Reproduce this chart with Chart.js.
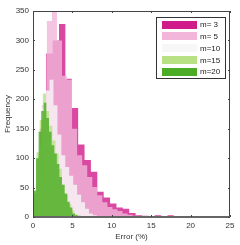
<!DOCTYPE html>
<html><head><meta charset="utf-8">
<script src="https://cdn.jsdelivr.net/npm/chart.js@4/dist/chart.umd.min.js"></script>
<style>html,body{margin:0;padding:0;background:#fff}#c{display:block}</style>
</head><body>
<canvas id="c" width="240" height="245"></canvas>
<script>
// Series labels and colours (PiYG)
const seriesLabels = ['m= 3', 'm= 5', 'm=10', 'm=15', 'm=20'];
const seriesColors = ['#d01c8b', '#f1b6da', '#f7f7f7', '#b8e186', '#4dac26'];
// Histogram bins: first left edge and bin width for each series
const binStart = [0.06, 0.48, 0.10, 0.05, 0.05];
const binWidth = [0.81, 0.64, 0.50, 0.40, 0.33];
// Counts per bin
const countsM3  = [20, 150, 278, 300, 328, 235, 185, 123, 97, 77, 43, 33, 23, 16, 14, 7, 3, 2, 1, 3, 0, 3];
const countsM5  = [60, 190, 333, 380, 300, 240, 233, 150, 105, 88, 68, 51, 37, 25, 17, 13, 10, 6, 4, 2, 1];
const countsM10 = [40, 120, 185, 215, 233, 190, 140, 105, 85, 70, 55, 38, 25, 14, 6, 3, 1];
const countsM15 = [40, 110, 165, 210, 180, 155, 130, 108, 82, 55, 38, 22, 11, 5, 2, 1];
const countsM20 = [45, 100, 145, 180, 194, 168, 145, 122, 108, 90, 68, 55, 40, 26, 16, 6, 3, 2, 1];
const allCounts = [countsM3, countsM5, countsM10, countsM15, countsM20];
// Axis ticks
const xTicks = [0, 5, 10, 15, 20, 25];
const yTicks = [0, 50, 100, 150, 200, 250, 300, 350];
const xTitle = 'Error (%)';
const yTitle = 'Frequency';

function hexA(hex, a) {
  const n = parseInt(hex.slice(1), 16);
  return `rgba(${(n >> 16) & 255},${(n >> 8) & 255},${n & 255},${a})`;
}
function histPoints(start, w, counts) {
  const pts = counts.map((c, i) => ({ x: start + i * w, y: c }));
  pts.push({ x: start + counts.length * w, y: 0 });
  return pts;
}

const datasets = allCounts.map((cnt, i) => ({
  label: seriesLabels[i],
  data: histPoints(binStart[i], binWidth[i], cnt),
  stepped: 'before',
  fill: 'origin',
  backgroundColor: hexA(seriesColors[i], 0.8),
  borderWidth: 0,
  borderColor: 'rgba(0,0,0,0)',
  pointRadius: 0,
  order: 5 - i
}));

const frameAndLegend = {
  id: 'frameAndLegend',
  afterDraw(chart) {
    const ctx = chart.ctx, a = chart.chartArea;
    const xs = chart.scales.x, ys = chart.scales.y;
    ctx.save();
    // frame
    ctx.strokeStyle = '#444';
    ctx.lineWidth = 1;
    ctx.strokeRect(Math.round(a.left) + 0.5, Math.round(a.top) + 0.5, Math.round(a.right - a.left) - 1, Math.round(a.bottom - a.top) - 1);
    ctx.strokeStyle = '#666';
    ctx.lineWidth = 2;
    ctx.beginPath(); ctx.moveTo(a.left, a.bottom); ctx.lineTo(a.right, a.bottom); ctx.stroke();
    // inward ticks
    ctx.strokeStyle = '#444'; ctx.lineWidth = 1;
    ctx.beginPath();
    xTicks.forEach(v => {
      const px = Math.round(xs.getPixelForValue(v)) + 0.5;
      ctx.moveTo(px, a.bottom); ctx.lineTo(px, a.bottom - 2);
      ctx.moveTo(px, a.top); ctx.lineTo(px, a.top + 2);
    });
    yTicks.forEach(v => {
      const py = Math.round(ys.getPixelForValue(v)) + 0.5;
      ctx.moveTo(a.left, py); ctx.lineTo(a.left + 2, py);
      ctx.moveTo(a.right, py); ctx.lineTo(a.right - 2, py);
    });
    ctx.stroke();
    // legend
    const lx = 156, ly = 17, lw = 69, lh = 61;
    ctx.fillStyle = '#fff';
    ctx.fillRect(lx, ly, lw, lh);
    ctx.strokeStyle = '#333';
    ctx.strokeRect(lx + 0.5, ly + 0.5, lw, lh);
    ctx.font = '8px "Liberation Sans", Arial, sans-serif';
    ctx.textBaseline = 'middle';
    ctx.textAlign = 'left';
    seriesLabels.forEach((lab, i) => {
      const cy = ly + 7.5 + i * 11.8;
      ctx.fillStyle = seriesColors[i];
      ctx.fillRect(lx + 6, Math.round(cy - 4), 35, 8);
      ctx.fillStyle = '#222';
      ctx.fillText(lab, lx + 44, cy + 0.5);
    });
    ctx.restore();
  }
};

new Chart(document.getElementById('c'), {
  type: 'line',
  data: { datasets },
  options: {
    responsive: false,
    animation: false,
    events: [],
    layout: { padding: { left: 0, top: 11, right: 10, bottom: 0 } },
    plugins: { legend: { display: false }, tooltip: { enabled: false } },
    scales: {
      x: {
        type: 'linear', min: 0, max: 25,
        afterBuildTicks: s => { s.ticks = xTicks.map(v => ({ value: v })); },
        afterFit: s => { s.height = 28; },
        grid: { display: false, drawTicks: false },
        border: { display: false },
        ticks: { padding: 4, color: '#333', font: { family: '"Liberation Sans", Arial, sans-serif', size: 8 } },
        title: { display: true, text: xTitle, color: '#333', padding: { top: 0, bottom: 3 }, font: { family: '"Liberation Sans", Arial, sans-serif', size: 8 } }
      },
      y: {
        type: 'linear', min: 0, max: 350,
        afterBuildTicks: s => { s.ticks = yTicks.map(v => ({ value: v })); },
        afterFit: s => { s.width = 33; },
        grid: { display: false, drawTicks: false },
        border: { display: false },
        ticks: { padding: 4, color: '#333', font: { family: '"Liberation Sans", Arial, sans-serif', size: 8 } },
        title: { display: true, text: yTitle, color: '#333', padding: { top: 3, bottom: 0 }, font: { family: '"Liberation Sans", Arial, sans-serif', size: 8 } }
      }
    }
  },
  plugins: [frameAndLegend]
});
</script>
</body></html>
